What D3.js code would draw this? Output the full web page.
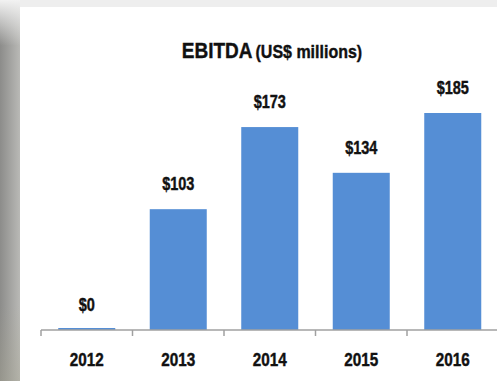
<!DOCTYPE html>
<html>
<head>
<meta charset="utf-8">
<script src="https://cdn.jsdelivr.net/npm/d3@7"></script>
<style>
  html, body { margin: 0; padding: 0; background: #ffffff; }
  svg { display: block; }
  text { font-family: "Liberation Sans", Arial, sans-serif; font-weight: bold; fill: #111; stroke: #111; stroke-width: 0.35px; }
</style>
</head>
<body>
<script>
// EBITDA by year, US$ millions
const years = ["2012", "2013", "2014", "2015", "2016"];
const ebitda = [0, 103, 173, 134, 185];
const valueLabels = ["$0", "$103", "$173", "$134", "$185"];
const chartTitle = "EBITDA";
const chartSubtitle = "(US$ millions)";

const W = 497, H = 381;
const svg = d3.select("body").append("svg").attr("width", W).attr("height", H);

// Slide frame: grey shaded strip on the left, light band at the top
const defs = svg.append("defs");
const side = defs.append("linearGradient").attr("id", "side").attr("x1", 0).attr("x2", 1).attr("y1", 0).attr("y2", 0);
side.append("stop").attr("offset", "0%").attr("stop-color", "#8c8c8a");
side.append("stop").attr("offset", "100%").attr("stop-color", "#b9b9b6");
const sideFade = defs.append("linearGradient").attr("id", "sideFade").attr("x1", 0).attr("x2", 0).attr("y1", 0).attr("y2", 1);
sideFade.append("stop").attr("offset", "0%").attr("stop-color", "#f2f2f2").attr("stop-opacity", 1);
sideFade.append("stop").attr("offset", "12%").attr("stop-color", "#f2f2f2").attr("stop-opacity", 0);
sideFade.append("stop").attr("offset", "80%").attr("stop-color", "#a8a690").attr("stop-opacity", 0);
sideFade.append("stop").attr("offset", "100%").attr("stop-color", "#a8a690").attr("stop-opacity", 0.35);

svg.append("rect").attr("x", 0).attr("y", 0).attr("width", W).attr("height", 7).attr("fill", "#eeeeee");
svg.append("rect").attr("x", 0).attr("y", 0).attr("width", 20).attr("height", H).attr("fill", "url(#side)");
svg.append("rect").attr("x", 0).attr("y", 0).attr("width", 20).attr("height", H).attr("fill", "url(#sideFade)");

// Text is drawn narrow and tall: a smaller size stretched vertically
function tallText(sel, x, y, size, stretch) {
  return sel.attr("transform", `translate(${x},${y}) scale(1,${stretch})`)
    .attr("font-size", size);
}

// Scales
const x = d3.scaleBand()
  .domain(years)
  .range([41, 498.5])
  .paddingInner(0.377)
  .paddingOuter(0.1885);
const step = x.step();

const y = d3.scaleLinear().domain([0, 200]).range([330, 95.4]);

const rows = years.map((yr, i) => ({ yr, v: ebitda[i], label: valueLabels[i] }));

// Bars
svg.append("g").selectAll("rect")
  .data(rows)
  .join("rect")
  .attr("x", d => x(d.yr))
  .attr("width", x.bandwidth())
  .attr("y", d => Math.min(y(d.v), y(0) - 2))
  .attr("height", d => Math.max(y(0) - y(d.v), 2))
  .attr("fill", "#558ed5");

// Value labels above bars
svg.append("g").selectAll("text")
  .data(rows)
  .join("text")
  .attr("text-anchor", "middle")
  .each(function (d) {
    tallText(d3.select(this), x(d.yr) + x.bandwidth() / 2, y(d.v) - 19, 14.5, 1.22);
  })
  .text(d => d.label);

// Category axis with ticks between categories
const axisY = 330;
const axisG = svg.append("g");
axisG.append("line")
  .attr("x1", 41).attr("x2", W)
  .attr("y1", axisY).attr("y2", axisY)
  .attr("stroke", "#a0a0a0").attr("stroke-width", 1.5);
const gap = (step - x.bandwidth()) / 2;
const tickXs = years.map(yr => x(yr) - gap).concat([x(years[years.length - 1]) + x.bandwidth() + gap]);
axisG.selectAll("line.tick")
  .data(tickXs)
  .join("line")
  .attr("class", "tick")
  .attr("x1", d => d).attr("x2", d => d)
  .attr("y1", axisY).attr("y2", axisY + 6)
  .attr("stroke", "#a0a0a0").attr("stroke-width", 1.5);
axisG.selectAll("text")
  .data(years)
  .join("text")
  .attr("text-anchor", "middle")
  .each(function (d) {
    tallText(d3.select(this), x(d) + x.bandwidth() / 2, 366, 15.3, 1.2);
  })
  .text(d => d);

// Title
const title = svg.append("text").attr("text-anchor", "middle");
tallText(title, 272, 58, 19, 1.14);
title.append("tspan").text(chartTitle);
title.append("tspan").attr("font-size", 16).attr("dx", 3).text(chartSubtitle);
</script>
</body>
</html>
